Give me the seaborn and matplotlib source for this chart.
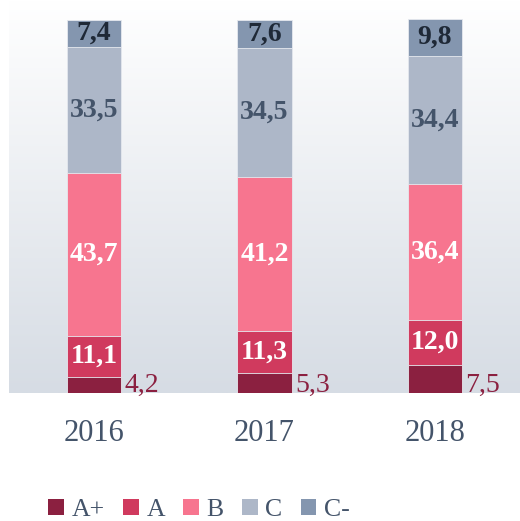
import numpy as np
import pandas as pd
import seaborn as sns
import matplotlib.pyplot as plt
from matplotlib.colors import LinearSegmentedColormap
from matplotlib.patches import Patch

years = ["2016", "2017", "2018"]
grades = ["A+", "A", "B", "C", "C-"]
a_plus = [4.2, 5.3, 7.5]
a_vals = [11.1, 11.3, 12.0]
b_vals = [43.7, 41.2, 36.4]
c_vals = [33.5, 34.5, 34.4]
c_minus = [7.4, 7.6, 9.8]
colors = ["#8b2040", "#d03a5e", "#f7758f", "#adb7c8", "#8496af"]

series = [a_plus, a_vals, b_vals, c_vals, c_minus]
df = pd.DataFrame({
    "year": years * len(grades),
    "grade": np.repeat(grades, len(years)),
    "value": np.concatenate(series),
})
df["top"] = df.groupby("year")["value"].cumsum()
df["bottom"] = df["top"] - df["value"]

sns.set_theme(style="white")
plt.rcParams["font.family"] = ["Liberation Serif", "DejaVu Serif"]

fig = plt.figure(figsize=(5.2, 5.21), dpi=100)
ax = fig.add_axes([9 / 520, 128 / 521, 511 / 520, 393 / 521])

# background gradient
cmap = LinearSegmentedColormap.from_list("bg", ["#ffffff", "#d6dce4"])
ax.imshow(np.linspace(0, 1, 256).reshape(-1, 1), extent=[0, 1, 0, 1],
          transform=ax.transAxes, cmap=cmap, aspect="auto", zorder=0)

# stacked bars: draw cumulative totals from the top layer down
for g, col in reversed(list(zip(grades, colors))):
    sub = df[df["grade"] == g]
    sns.barplot(data=sub, x="year", y="top", color=col, saturation=1,
                width=0.32, ax=ax, zorder=2, order=years, linewidth=0.6,
                edgecolor="#e6e9ef")

label_style = {
    "A": ("white", "bold"),
    "B": ("white", "bold"),
    "C": ("#44546a", "bold"),
    "C-": ("#1f2937", "bold"),
}
for i, yr in enumerate(years):
    rows = df[df["year"] == yr]
    for _, r in rows.iterrows():
        txt = f"{r['value']:.1f}".replace(".", ",")
        if r["grade"] == "A+":
            ax.text(i + 0.18, 0.4, txt, ha="left", va="baseline",
                    fontsize=20, color="#8b2040", zorder=3)
        else:
            col, w = label_style[r["grade"]]
            ax.text(i, (r["bottom"] + r["top"]) / 2, txt, ha="center",
                    va="center", fontsize=20, color=col, fontweight=w, zorder=3)

ax.set_xlim(-0.5, 2.5)
ax.set_ylim(0, 105.2)
ax.set_xlabel("")
ax.set_ylabel("")
ax.set_yticks([])
ax.tick_params(axis="x", length=0, pad=19, labelsize=22, labelcolor="#44546a")
for s in ax.spines.values():
    s.set_visible(False)

handles = [Patch(facecolor=c, edgecolor="none") for c in colors]
leg = fig.legend(handles, grades, loc="center left",
                 bbox_to_anchor=(48 / 520, 11 / 521), ncol=5, frameon=False,
                 fontsize=18.5, handlelength=0.62, handleheight=0.62,
                 handletextpad=0.3, columnspacing=0.7, borderpad=0,
                 borderaxespad=0)
for t in leg.get_texts():
    t.set_color("#44546a")

fig.savefig("out.png", dpi=100)
